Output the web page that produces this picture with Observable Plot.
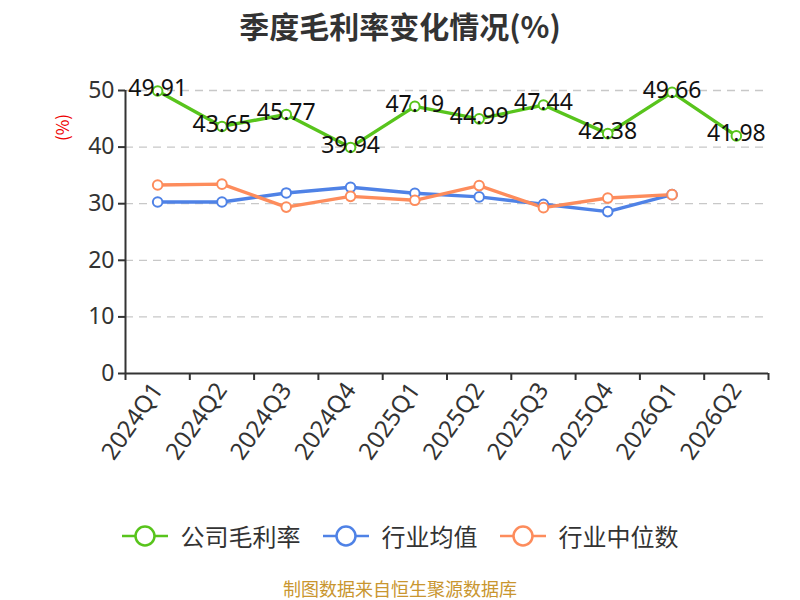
<!DOCTYPE html>
<html>
<head>
<meta charset="utf-8">
<script src="https://cdn.jsdelivr.net/npm/d3@7"></script>
<script src="https://cdn.jsdelivr.net/npm/@observablehq/plot@0.6"></script>
<style>
  body { margin:0; background:#fff; font-family:"Noto Sans CJK SC","Noto Sans",sans-serif; }
  #wrap { position:relative; width:800px; height:600px; overflow:hidden; }
  #title { position:absolute; top:3px; left:0; width:800px; text-align:center; font-size:30px; line-height:44px; font-weight:bold; color:#333; }
  #chart { position:absolute; top:50px; left:0; }
  #ylab { position:absolute; left:48px; top:115px; color:#e00; font-size:17px; transform:rotate(-90deg); transform-origin:center; }
  #legend { position:absolute; top:518px; left:0; width:800px; display:flex; justify-content:center; gap:22px; font-size:24px; line-height:36px; color:#333; }
  .item { display:flex; align-items:center; gap:13px; }
  #caption { position:absolute; top:578px; left:0; width:800px; text-align:center; font-size:18px; line-height:20px; color:#c9962f; }
</style>
</head>
<body>
<div id="wrap">
  <div id="title">季度毛利率变化情况(%)</div>
  <div id="ylab">(%)</div>
  <div id="chart"></div>
  <div id="legend"></div>
  <div id="caption">制图数据来自恒生聚源数据库</div>
</div>
<script>
const quarters = ["2024Q1","2024Q2","2024Q3","2024Q4","2025Q1","2025Q2","2025Q3","2025Q4","2026Q1","2026Q2"];
const company = [49.91,43.65,45.77,39.94,47.19,44.99,47.44,42.38,49.66,41.98];
const industryAvg = [30.3,30.3,31.9,32.9,31.85,31.2,29.9,28.6,31.6];
const industryMedian = [33.3,33.45,29.4,31.3,30.6,33.2,29.3,31.0,31.6];
const yTicks = [0,10,20,30,40,50];
const seriesNames = ["公司毛利率","行业均值","行业中位数"];
const colors = ["#58c41c","#4f82e6","#fd8c5c"];

const numFont = '"Noto Sans","Noto Sans CJK SC",sans-serif';
const rows = (arr) => arr.map((v,i) => ({i: i + 0.5, q: quarters[i], v}));
const cRows = rows(company), aRows = rows(industryAvg), mRows = rows(industryMedian);

const chart = Plot.plot({
  width: 800, height: 430,
  marginLeft: 125, marginRight: 32, marginTop: 40, marginBottom: 107,
  style: {fontFamily: numFont, background: "transparent"},
  x: {type: "linear", domain: [0, quarters.length], axis: null},
  y: {domain: [0, 50], axis: null},
  marks: [
    Plot.ruleY(yTicks.filter(d => d > 0), {stroke: "#c8c8c8", strokeWidth: 1.3, strokeDasharray: "8,6"}),
    Plot.axisY({ticks: yTicks, label: null, tickSize: 7, tickPadding: 4, fontSize: 23, color: "#333", strokeWidth: 2}),
    Plot.ruleX([0], {y1: 0, y2: 50, stroke: "#333", strokeWidth: 2}),
    Plot.ruleY([0], {stroke: "#333", strokeWidth: 2}),
    Plot.axisX({ticks: d3.range(quarters.length + 1), label: null, tickSize: 7, tickFormat: () => "", strokeWidth: 2, color: "#333"}),
    Plot.axisX({ticks: quarters.map((d,i) => i + 0.5), label: null, tickSize: 0, tickPadding: 12, tickRotate: -55,
      tickFormat: d => quarters[Math.floor(d)], fontSize: 24, color: "#333"}),
    Plot.line(aRows, {x: "i", y: "v", stroke: colors[1], strokeWidth: 3.4}),
    Plot.line(mRows, {x: "i", y: "v", stroke: colors[2], strokeWidth: 3.4}),
    Plot.line(cRows, {x: "i", y: "v", stroke: colors[0], strokeWidth: 3.4}),
    Plot.dot(aRows, {x: "i", y: "v", r: 4.8, fill: "white", stroke: colors[1], strokeWidth: 2}),
    Plot.dot(mRows, {x: "i", y: "v", r: 4.8, fill: "white", stroke: colors[2], strokeWidth: 2}),
    Plot.dot(cRows, {x: "i", y: "v", r: 4.8, fill: "white", stroke: colors[0], strokeWidth: 2}),
    Plot.text(cRows, {x: "i", y: "v", text: d => d.v.toFixed(2), fontSize: 23, fill: "#111", dy: -2})
  ]
});
document.getElementById("chart").appendChild(chart);

const legend = document.getElementById("legend");
seriesNames.forEach((name, k) => {
  const item = document.createElement("div");
  item.className = "item";
  item.innerHTML = `<svg width="46" height="24"><line x1="0" y1="12" x2="46" y2="12" stroke="${colors[k]}" stroke-width="2.5"/><circle cx="23" cy="12" r="9.5" fill="white" stroke="${colors[k]}" stroke-width="2.5"/></svg><span>${name}</span>`;
  legend.appendChild(item);
});
</script>
</body>
</html>
